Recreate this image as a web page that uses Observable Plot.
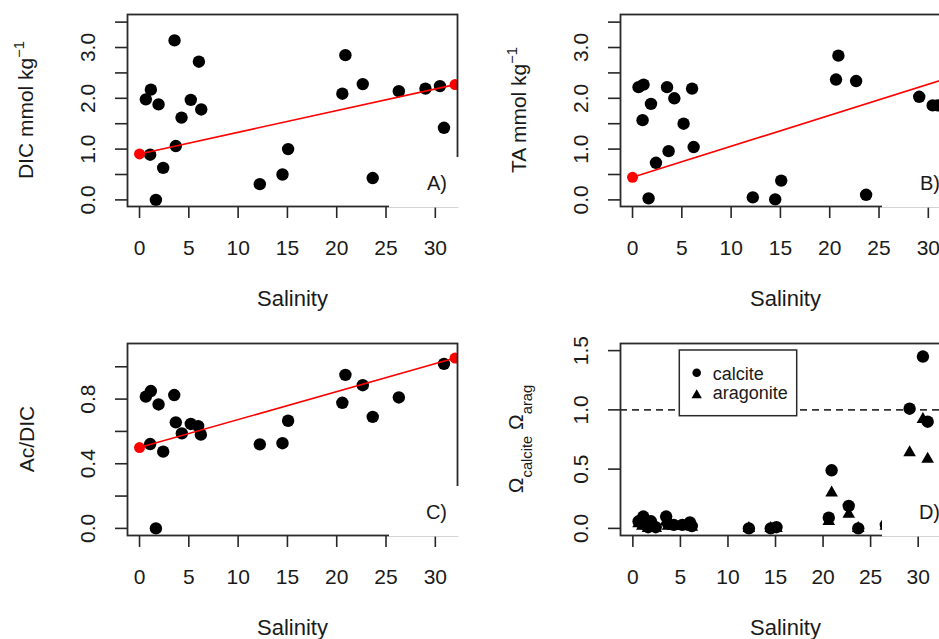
<!DOCTYPE html>
<html>
<head>
<meta charset="utf-8">
<script src="https://cdn.jsdelivr.net/npm/d3@7"></script>
<script src="https://cdn.jsdelivr.net/npm/@observablehq/plot@0.6"></script>
<style>
  html, body { margin: 0; padding: 0; background: #fff; }
  #wrap { position: relative; width: 939px; height: 639px; overflow: hidden; background: #fff; }
  .panel { position: absolute; width: 470px; height: 320px; }
  .panel svg { display: block; }
</style>
</head>
<body>
<div id="wrap"></div>
<script>
// ---------------- data ----------------
const salinityTicks = [0, 5, 10, 15, 20, 25, 30];

// Panel A: DIC vs salinity
const salinityA = [0.64, 1.15, 1.08, 1.93, 1.66, 2.40, 3.55, 3.68, 4.26, 5.20, 6.02, 6.26, 12.2, 14.5, 15.07, 20.57, 20.88, 22.64, 23.65, 26.3, 29.0, 30.47, 30.88];
const dic       = [1.98, 2.17, 0.89, 1.88, 0.00, 0.63, 3.14, 1.06, 1.62, 1.97, 2.72, 1.78, 0.31, 0.50, 1.00, 2.09, 2.85, 2.28, 0.43, 2.14, 2.19, 2.24, 1.42];
const fitSalinity = [0, 32];
const fitDIC = [0.905, 2.27];

// Panel B: TA vs salinity
const salinityB = [0.61, 1.12, 1.02, 1.87, 1.63, 2.38, 3.50, 3.66, 4.24, 5.18, 6.04, 6.20, 12.2, 14.47, 15.08, 20.64, 20.88, 22.68, 23.69, 29.08, 30.44, 30.95];
const ta        = [2.22, 2.27, 1.57, 1.89, 0.03, 0.73, 2.22, 0.96, 2.00, 1.50, 2.19, 1.04, 0.05, 0.01, 0.38, 2.37, 2.84, 2.34, 0.10, 2.03, 1.86, 1.86];
const fitTA = [0.445, 2.40];

// Panel C: Ac/DIC vs salinity
const salinityC = [0.64, 1.15, 1.08, 1.93, 1.66, 2.40, 3.52, 3.68, 4.29, 5.20, 5.95, 6.22, 12.2, 14.5, 15.07, 20.57, 20.88, 22.64, 23.65, 26.3, 30.88];
const acDic     = [0.815, 0.85, 0.522, 0.767, 0.0, 0.475, 0.825, 0.656, 0.588, 0.646, 0.633, 0.58, 0.52, 0.527, 0.666, 0.777, 0.95, 0.886, 0.69, 0.81, 1.018];
const fitAcDic = [0.50, 1.054];

// Panel D: saturation states vs salinity
const salinityD      = [0.6, 1.1, 1.0, 1.9, 1.6, 2.4, 3.5, 3.7, 4.3, 5.2, 6.0, 6.2, 12.2, 14.5, 15.1, 20.6, 20.9, 22.7, 23.7, 26.6, 29.1, 30.5, 31.0];
const omegaCalcite   = [0.06, 0.10, 0.04, 0.06, 0.01, 0.01, 0.10, 0.04, 0.03, 0.03, 0.05, 0.02, 0.0, 0.0, 0.01, 0.09, 0.49, 0.19, 0.0, 0.03, 1.01, 1.45, 0.90];
const omegaAragonite = [0.04, 0.06, 0.02, 0.04, 0.0, 0.0, 0.06, 0.02, 0.02, 0.02, 0.03, 0.01, 0.0, 0.0, 0.0, 0.06, 0.30, 0.12, 0.0, 0.02, 0.64, 0.92, 0.585];

const yTicksAB = [0, 0.5, 1, 1.5, 2, 2.5, 3, 3.5];
const yLabelsAB = [0, 1, 2, 3];
const yTicksC = [0, 0.2, 0.4, 0.6, 0.8, 1.0];
const yLabelsC = [0, 0.4, 0.8];
const yTicksD = [0, 0.5, 1, 1.5];
const yLabelsD = [0, 0.5, 1, 1.5];

const legendLabels = ["calcite", "aragonite"];

// ---------------- drawing ----------------
const FONT = '"Liberation Sans", Arial, Helvetica, sans-serif';
const INK = "#1a1a1a";
const wrap = document.getElementById("wrap");

const pairs = (xs, ys) => xs.map((x, i) => ({x, y: ys[i]}));

function makePanel(cfg) {
  const marks = [
    Plot.axisX({ticks: salinityTicks, tickSize: 12, tickFormat: () => "", label: null, strokeWidth: 1.6}),
    Plot.axisY({ticks: cfg.yTicks, tickSize: 12, tickFormat: () => "", label: null, strokeWidth: 1.6}),
    Plot.text(salinityTicks, {x: d => d, text: d => String(d), frameAnchor: "bottom", dy: 42, lineAnchor: "middle", fontSize: 21, fill: INK}),
    Plot.text(cfg.yLabels, {y: d => d, text: d => d.toFixed(1), frameAnchor: "left", dx: -39, rotate: -90, textAnchor: "middle", lineAnchor: "middle", fontSize: 21, fill: INK}),
    Plot.text(["Salinity"], {frameAnchor: "bottom", dy: 92, lineAnchor: "middle", fontSize: 22, fill: INK}),
    ...cfg.marks,
    Plot.frame({stroke: "#2a2a2a", strokeWidth: 1.8})
  ];
  const svg = Plot.plot({
    width: 470, height: 320,
    marginTop: 14, marginRight: 13, marginBottom: 114, marginLeft: 127,
    style: {fontFamily: FONT, background: "transparent", color: "#262626", overflow: "visible"},
    x: {domain: cfg.xDomain},
    y: {domain: cfg.yDomain},
    marks
  });
  const s = d3.select(svg);

  // y-axis title (rotated, with super/subscripts)
  const t = s.append("text")
    .attr("transform", `translate(${cfg.titleX},110) rotate(-90)`)
    .attr("text-anchor", "middle")
    .attr("font-family", FONT)
    .attr("font-size", 21)
    .attr("fill", INK);
  cfg.title(t);

  // panel tag with white background box
  s.append("rect").attr("x", 389).attr("y", 157).attr("width", 72).attr("height", 50.5).attr("fill", "#fff");
  s.append("text").attr("x", 447).attr("y", 190.2).attr("text-anchor", "end")
    .attr("font-family", FONT).attr("font-size", 20).attr("fill", INK).text(cfg.tag);

  if (cfg.after) cfg.after(s);

  const div = document.createElement("div");
  div.className = "panel";
  div.style.left = cfg.left + "px";
  div.style.top = cfg.top + "px";
  div.appendChild(svg);
  wrap.appendChild(div);
}

function fitMarks(xs, ys) {
  const d = pairs(xs, ys);
  return [
    Plot.line(d, {x: "x", y: "y", stroke: "#ff0000", strokeWidth: 1.6, clip: true}),
    Plot.dot(d, {x: "x", y: "y", r: 5.5, fill: "#ff0000", clip: true})
  ];
}

// A
makePanel({
  left: 0, top: 0, tag: "A)",
  xDomain: [-1.22, 32.25], yDomain: [-0.13, 3.65],
  yTicks: yTicksAB, yLabels: yLabelsAB, titleX: 33.3,
  marks: [
    Plot.dot(pairs(salinityA, dic), {x: "x", y: "y", r: 6.2, fill: "#000"}),
    ...fitMarks(fitSalinity, fitDIC)
  ],
  title: t => {
    t.append("tspan").text("DIC mmol kg");
    t.append("tspan").attr("font-size", 14.7).attr("dy", -9).text("\u22121");
  }
});

// B
makePanel({
  left: 493, top: 0, tag: "B)",
  xDomain: [-1.22, 32.25], yDomain: [-0.13, 3.65],
  yTicks: yTicksAB, yLabels: yLabelsAB, titleX: 33.3,
  marks: [
    Plot.dot(pairs(salinityB, ta), {x: "x", y: "y", r: 6.2, fill: "#000"}),
    ...fitMarks(fitSalinity, fitTA)
  ],
  title: t => {
    t.append("tspan").text("TA mmol kg");
    t.append("tspan").attr("font-size", 14.7).attr("dy", -9).text("\u22121");
  }
});

// C
makePanel({
  left: 0, top: 329, tag: "C)",
  xDomain: [-1.22, 32.25], yDomain: [-0.044, 1.144],
  yTicks: yTicksC, yLabels: yLabelsC, titleX: 34,
  marks: [
    Plot.dot(pairs(salinityC, acDic), {x: "x", y: "y", r: 6.2, fill: "#000"}),
    ...fitMarks(fitSalinity, fitAcDic)
  ],
  title: t => { t.append("tspan").text("Ac/DIC"); }
});

// D
makePanel({
  left: 493, top: 329, tag: "D)",
  xDomain: [-1.3, 33.4], yDomain: [-0.06, 1.56],
  yTicks: yTicksD, yLabels: yLabelsD, titleX: 30.3,
  marks: [
    Plot.ruleY([1], {stroke: "#333", strokeWidth: 1.8, strokeDasharray: "7,5"}),
    Plot.dot(pairs(salinityD, omegaCalcite), {x: "x", y: "y", r: 6.2, fill: "#000"}),
    Plot.dot(pairs(salinityD, omegaAragonite), {x: "x", y: "y", r: 4.7, symbol: "triangle", fill: "#000"})
  ],
  title: t => {
    t.append("tspan").text("\u03A9");
    t.append("tspan").attr("font-size", 14.7).attr("dy", 9).text("calcite");
    t.append("tspan").attr("dy", -9).text(" \u03A9");
    t.append("tspan").attr("font-size", 14.7).attr("dy", 9).text("arag");
  },
  after: s => {
    const g = s.append("g").attr("text-anchor", "start");
    g.append("rect").attr("x", 186.3).attr("y", 21).attr("width", 117.4).attr("height", 65.7)
      .attr("fill", "#fff").attr("stroke", "#2a2a2a").attr("stroke-width", 1.5);
    g.append("circle").attr("cx", 203.7).attr("cy", 43.7).attr("r", 4.3).attr("fill", "#000");
    g.append("path").attr("d", "M203.7,60.2 L208.9,69.2 L198.5,69.2 Z").attr("fill", "#000");
    g.append("text").attr("x", 219.7).attr("y", 51).attr("text-anchor", "start").attr("font-family", FONT).attr("font-size", 18).attr("fill", INK).text(legendLabels[0]);
    g.append("text").attr("x", 219.7).attr("y", 70.3).attr("text-anchor", "start").attr("font-family", FONT).attr("font-size", 18).attr("fill", INK).text(legendLabels[1]);
  }
});
</script>
</body>
</html>
